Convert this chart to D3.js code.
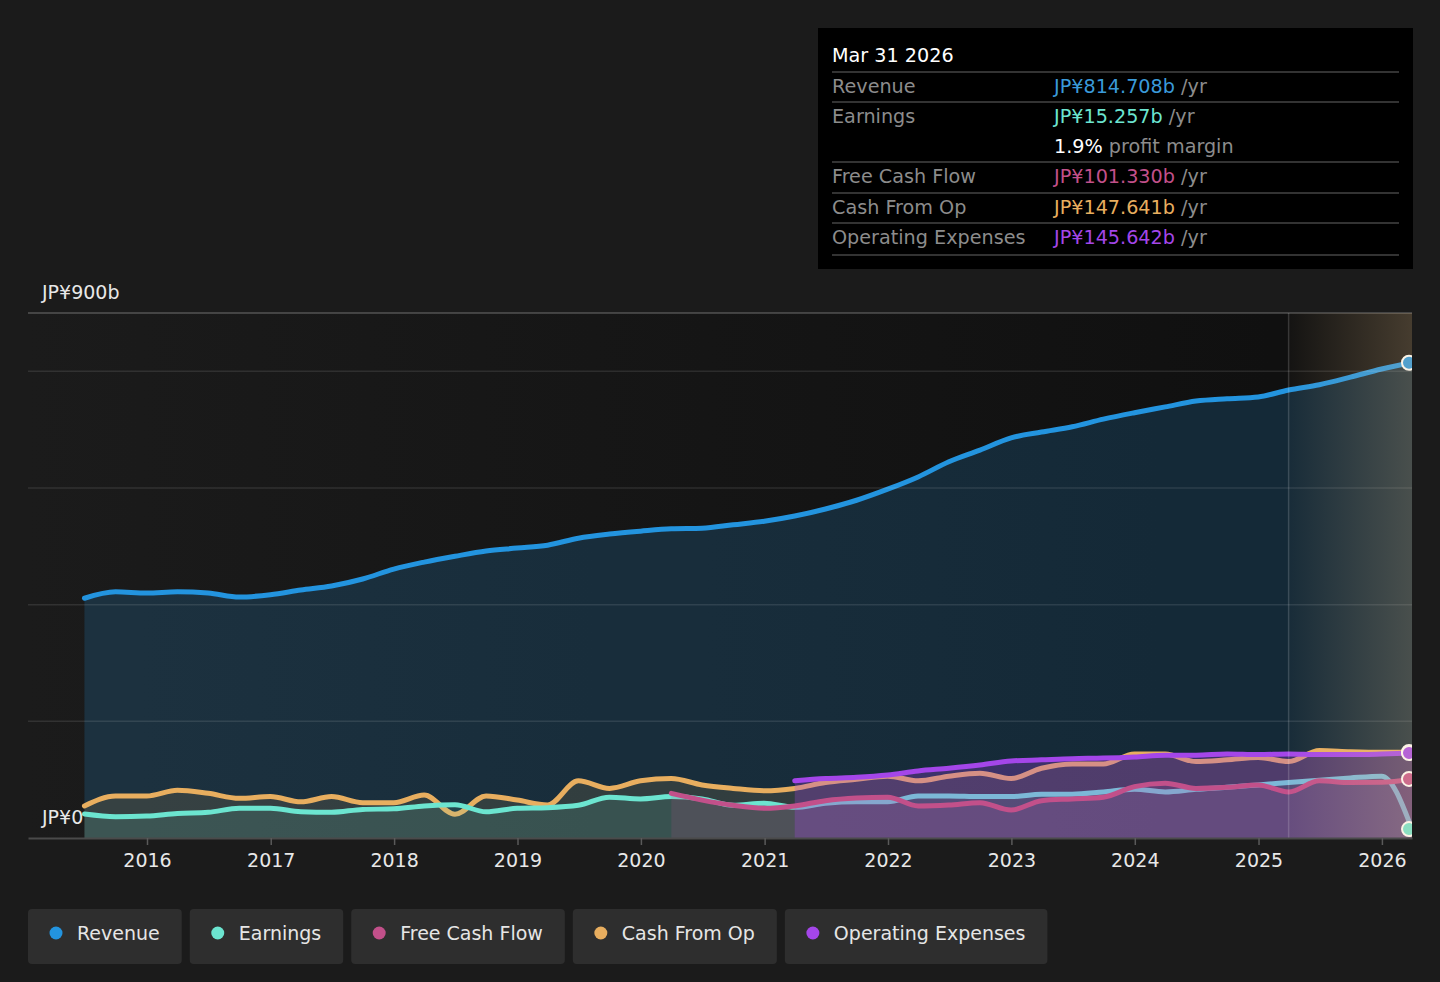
<!DOCTYPE html>
<html>
<head>
<meta charset="utf-8">
<script src="https://cdn.jsdelivr.net/npm/d3@7/dist/d3.min.js"></script>
<style>
  body { margin: 0; background: #1b1b1b; font-family: "DejaVu Sans", sans-serif; }
</style>
</head>
<body>
<div id="chart"></div>
<script>
// quarter ends, Jun 2015 .. Mar 2026
const quarterEnds = [
  '2015-06-30', '2015-09-30', '2015-12-31',
  '2016-03-31', '2016-06-30', '2016-09-30', '2016-12-31',
  '2017-03-31', '2017-06-30', '2017-09-30', '2017-12-31',
  '2018-03-31', '2018-06-30', '2018-09-30', '2018-12-31',
  '2019-03-31', '2019-06-30', '2019-09-30', '2019-12-31',
  '2020-03-31', '2020-06-30', '2020-09-30', '2020-12-31',
  '2021-03-31', '2021-06-30', '2021-09-30', '2021-12-31',
  '2022-03-31', '2022-06-30', '2022-09-30', '2022-12-31',
  '2023-03-31', '2023-06-30', '2023-09-30', '2023-12-31',
  '2024-03-31', '2024-06-30', '2024-09-30', '2024-12-31',
  '2025-03-31', '2025-06-30', '2025-09-30', '2025-12-31',
  '2026-03-31'
];

// JP¥ billions, trailing twelve months
const revenue = [411, 422, 420, 422, 420, 413, 417, 425, 432, 444, 461, 473, 483, 492, 497, 502,
  514, 521, 526, 530, 531, 537, 543, 552, 564, 579, 598, 619, 645, 665, 686, 696, 705, 718, 729,
  739, 749, 753, 756, 768, 777, 790, 804, 814.708];
const earnings = [41, 36.6, 37.7, 42, 44, 51, 51, 45, 44, 49, 50, 55, 57, 45, 51, 52, 56, 70, 67,
  71, 67, 56, 59.5, 52.6, 59.5, 62, 62, 72, 72, 71, 71, 75, 75, 79, 83.5, 79, 83.5, 87, 91, 95, 99,
  103, 106, 15.257];
const cashFromOp = [55, 72, 72, 82, 76.6, 68, 71, 62, 71, 60.5, 60.5, 73.7, 40.6, 72, 65, 56.6, 98,
  85, 98, 102, 91, 85, 81, 85, 95, 100.6, 106, 98, 106, 111, 102, 119.5, 127, 127, 144, 144, 131,
  134, 138, 131, 150, 148, 147, 147.641];
// starts Mar 2020
const freeCashFlow = [76.6, 65, 56, 51, 55, 64, 68.6, 70, 55, 56.6, 60.5, 48, 64, 67, 70, 88, 94,
  85, 87, 91, 79, 98, 95, 95.5, 101.33];
// starts Mar 2021
const opExpenses = [98, 102, 104, 108, 115, 119.5, 125, 132, 134, 136, 137, 139, 142, 142, 144,
  143, 144, 143, 143, 144, 145.642];

const yTicks = [0, 200, 400, 600, 800];
const yLabels = [{ v: 900, t: 'JP¥900b' }, { v: 0, t: 'JP¥0' }];
const forecastStart = '2025-03-31';

const colors = {
  revenue: '#2394df',
  earnings: '#6ce5d0',
  fcf: '#c2508a',
  cfo: '#e8ae5f',
  opex: '#a446e9'
};

const W = 1440, H = 982;
const parse = d3.timeParse('%Y-%m-%d');
const dates = quarterEnds.map(parse);

const toSeries = (vals) => {
  let ds = dates.slice(dates.length - vals.length);
  return vals.map((v, i) => ({ date: ds[i], value: v }));
};

const svg = d3.select('#chart')
  .append('svg')
    .attr('width', W)
    .attr('height', H);

const x = d3.scaleTime()
  .domain([new Date(2015, 0, 14), parse('2026-03-31')])
  .range([28, 1412]);
const y = d3.scaleLinear()
  .domain([0, 900])
  .range([838, 313]);

const defs = svg.append('defs');

let bgGrad = defs.append('linearGradient').attr('id', 'bgGrad');
bgGrad.append('stop').attr('offset', '0%').attr('stop-color', '#1b1b1b');
bgGrad.append('stop').attr('offset', '90%').attr('stop-color', '#101010');

let fcGrad = defs.append('linearGradient').attr('id', 'fcGrad');
fcGrad.append('stop').attr('offset', '0%').attr('stop-color', '#f0c890').attr('stop-opacity', 0.02);
fcGrad.append('stop').attr('offset', '100%').attr('stop-color', '#f0c890').attr('stop-opacity', 0.24);

defs.append('clipPath').attr('id', 'plotClip')
  .append('rect')
    .attr('x', x.range()[0]).attr('y', y(900) - 10)
    .attr('width', x.range()[1] - x.range()[0]).attr('height', y(0) - y(900) + 20);

// plot background
svg.append('rect')
  .attr('x', x.range()[0]).attr('y', y(900))
  .attr('width', x.range()[1] - x.range()[0]).attr('height', y(0) - y(900))
  .attr('fill', 'url(#bgGrad)');

const plot = svg.append('g').attr('clip-path', 'url(#plotClip)');

const line = d3.line().x(d => x(d.date)).y(d => y(d.value)).curve(d3.curveMonotoneX);
const area = d3.area().x(d => x(d.date)).y0(y(0)).y1(d => y(d.value)).curve(d3.curveMonotoneX);

const drawArea = (vals, color, op) => {
  plot.append('path').datum(toSeries(vals))
    .attr('d', area).attr('fill', color).attr('fill-opacity', op);
};
const drawLine = (vals, color) => {
  plot.append('path').datum(toSeries(vals))
    .attr('d', line).attr('fill', 'none')
    .attr('stroke', color).attr('stroke-width', 5)
    .attr('stroke-linecap', 'round');
};

drawArea(revenue, colors.revenue, 0.19);
drawLine(revenue, colors.revenue);
drawArea(cashFromOp, colors.cfo, 0.13);
drawLine(cashFromOp, colors.cfo);
drawArea(earnings, colors.earnings, 0.12);
drawLine(earnings, colors.earnings);
drawArea(freeCashFlow, colors.fcf, 0.16);
drawArea(opExpenses, colors.opex, 0.28);
drawLine(freeCashFlow, colors.fcf);
drawLine(opExpenses, colors.opex);

// gridlines
svg.selectAll('.grid')
  .data(yTicks.slice(1))
  .enter()
  .append('line')
    .attr('x1', x.range()[0]).attr('x2', x.range()[1])
    .attr('y1', d => y(d)).attr('y2', d => y(d))
    .attr('stroke', '#ffffff').attr('stroke-opacity', 0.1).attr('stroke-width', 1.5);

svg.append('line')
  .attr('x1', x.range()[0]).attr('x2', x.range()[1])
  .attr('y1', y(900)).attr('y2', y(900))
  .attr('stroke', '#ffffff').attr('stroke-opacity', 0.25).attr('stroke-width', 1.5);

// forecast zone
const fx = x(parse(forecastStart));
svg.append('rect')
  .attr('x', fx).attr('y', y(900))
  .attr('width', x.range()[1] - fx).attr('height', y(0) - y(900))
  .attr('fill', 'url(#fcGrad)');
svg.append('line')
  .attr('x1', fx).attr('x2', fx).attr('y1', y(900)).attr('y2', y(0))
  .attr('stroke', '#ffffff').attr('stroke-opacity', 0.16).attr('stroke-width', 1.5);

// x axis
const xAxis = d3.axisBottom(x)
  .ticks(d3.timeYear.every(1))
  .tickFormat(d3.timeFormat('%Y'))
  .tickSize(7)
  .tickSizeOuter(0)
  .tickPadding(9);

let gx = svg.append('g')
  .attr('transform', `translate(0,${y(0)})`)
  .call(xAxis);
gx.select('.domain').attr('stroke', '#4a4a4a').attr('stroke-width', 2);
gx.selectAll('.tick line').attr('stroke', '#5a5a5a').attr('stroke-width', 1.5);
gx.selectAll('.tick text')
  .attr('fill', '#e8e8e8')
  .attr('font-size', '19px')
  .attr('font-family', '"DejaVu Sans", sans-serif');

// y labels
svg.selectAll('.ylab')
  .data(yLabels)
  .enter()
  .append('text')
    .attr('x', 42)
    .attr('y', d => y(d.v) - 14)
    .attr('fill', '#e8e8e8')
    .attr('font-size', '19px')
    .text(d => d.t);

// end markers
const endPts = [
  [cashFromOp, colors.cfo],
  [revenue, colors.revenue],
  [earnings, colors.earnings],
  [freeCashFlow, colors.fcf],
  [opExpenses, colors.opex]
];
plot.selectAll('.end')
  .data(endPts)
  .enter()
  .append('circle')
    .attr('cx', x(dates[dates.length - 1]) - 3)
    .attr('cy', d => y(d[0][d[0].length - 1]))
    .attr('r', 7)
    .attr('fill', d => d[1])
    .attr('stroke', '#ffffff')
    .attr('stroke-width', 2);

// tooltip
const tip = svg.append('g');
tip.append('rect')
  .attr('x', 818).attr('y', 28).attr('width', 595).attr('height', 241)
  .attr('fill', '#000000');
tip.append('text')
  .attr('x', 832).attr('y', 62)
  .attr('fill', '#ffffff').attr('font-size', '19.2px')
  .text('Mar 31 2026');

const tipRows = [
  { label: 'Revenue', value: 'JP¥814.708b', color: '#3a9ad9', base: 93 },
  { label: 'Earnings', value: 'JP¥15.257b', color: colors.earnings, base: 123 },
  { label: '', value: '1.9%', color: '#ffffff', base: 153, suffix: ' profit margin' },
  { label: 'Free Cash Flow', value: 'JP¥101.330b', color: colors.fcf, base: 183 },
  { label: 'Cash From Op', value: 'JP¥147.641b', color: colors.cfo, base: 214 },
  { label: 'Operating Expenses', value: 'JP¥145.642b', color: colors.opex, base: 244 }
];
const sepY = [72, 102, 162, 193, 223, 255];

tip.selectAll('.sep')
  .data(sepY)
  .enter()
  .append('line')
    .attr('x1', 832).attr('x2', 1399)
    .attr('y1', d => d).attr('y2', d => d)
    .attr('stroke', '#444444').attr('stroke-width', 1.5);

tipRows.forEach(r => {
  tip.append('text')
    .attr('x', 832).attr('y', r.base)
    .attr('fill', '#8c8c8c').attr('font-size', '19.2px')
    .text(r.label);
  let t = tip.append('text')
    .attr('x', 1054).attr('y', r.base)
    .attr('font-size', '19.2px');
  t.append('tspan').attr('fill', r.color).text(r.value);
  t.append('tspan').attr('fill', '#8c8c8c').text(r.suffix || ' /yr');
});

// legend
const legendItems = [
  { name: 'Revenue', color: colors.revenue },
  { name: 'Earnings', color: colors.earnings },
  { name: 'Free Cash Flow', color: colors.fcf },
  { name: 'Cash From Op', color: colors.cfo },
  { name: 'Operating Expenses', color: colors.opex }
];
let lx = 28;
legendItems.forEach(item => {
  let g = svg.append('g').attr('transform', `translate(${lx},909)`);
  let bg = g.append('rect')
    .attr('height', 55).attr('rx', 4)
    .attr('fill', '#2e2e2e');
  g.append('circle')
    .attr('cx', 28).attr('cy', 24).attr('r', 6.5)
    .attr('fill', item.color);
  let txt = g.append('text')
    .attr('x', 49).attr('y', 31)
    .attr('fill', '#e6e6e6').attr('font-size', '19px')
    .text(item.name);
  let w = 49 + txt.node().getComputedTextLength() + 22;
  bg.attr('width', w);
  lx += w + 8;
});
</script>
</body>
</html>
